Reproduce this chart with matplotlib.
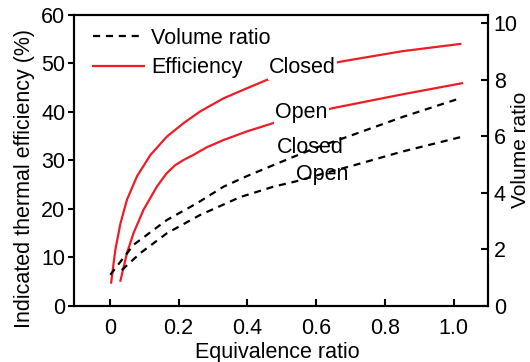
import matplotlib
matplotlib.use("Agg")
import numpy as np
from matplotlib import pyplot as plt

plt.rcParams["font.family"] = ["Liberation Sans", "DejaVu Sans"]
fs = 15.5

# efficiency (%) vs equivalence ratio
eff_closed_x = [0.004, 0.016, 0.031, 0.050, 0.079, 0.118, 0.166, 0.215, 0.263, 0.331, 0.40, 0.457,
                0.56, 0.675, 0.85, 1.019]
eff_closed_y = [4.8, 11.5, 17.0, 21.9, 26.7, 31.1, 34.9, 37.7, 40.1, 42.8, 44.9, 46.6,
                48.7, 50.4, 52.5, 54.0]
eff_open_x = [0.031, 0.050, 0.069, 0.098, 0.137, 0.165, 0.19, 0.215, 0.245, 0.282, 0.331, 0.40, 0.476,
              0.56, 0.651, 0.85, 1.024]
eff_open_y = [5.2, 10.9, 15.0, 19.8, 24.6, 27.3, 29.0, 30.1, 31.2, 32.7, 34.2, 36.0, 37.7,
              39.3, 40.8, 43.6, 45.9]

# volume ratio vs equivalence ratio
vr_closed_x = [0.0015, 0.069, 0.166, 0.253, 0.331, 0.40, 0.525, 0.60, 0.699, 0.85, 1.019]
vr_closed_y = [1.10, 2.16, 3.04, 3.63, 4.22, 4.60, 5.23, 5.60, 6.02, 6.68, 7.35]
vr_open_x = [0.035, 0.089, 0.166, 0.263, 0.379, 0.476, 0.539, 0.62, 0.714, 0.85, 1.019]
vr_open_y = [1.27, 1.87, 2.57, 3.22, 3.85, 4.22, 4.40, 4.68, 4.99, 5.46, 5.97]

xticks = [0, 0.2, 0.4, 0.6, 0.8, 1.0]
xtick_labels = ["0", "0.2", "0.4", "0.6", "0.8", "1.0"]

fig = plt.figure(figsize=(5.3, 3.62), dpi=100)
ax = fig.add_axes([0.139, 0.155, 0.782, 0.804])
ax2 = ax.twinx()

red = "#ee1c25"
dash = (3.2, 2.6)
ax.plot(eff_closed_x, eff_closed_y, color=red, lw=1.6, label="Efficiency")
ax.plot(eff_open_x, eff_open_y, color=red, lw=1.6)
ax2.plot(vr_closed_x, vr_closed_y, color="black", lw=1.6, dashes=dash)
ax2.plot(vr_open_x, vr_open_y, color="black", lw=1.6, dashes=dash)

ax.set_xlim(-0.105, 1.10)
ax.set_ylim(0, 60)
ax2.set_ylim(0, 10.3)
ax.set_xticks(xticks)
ax.set_xticklabels(xtick_labels)
ax.set_yticks(range(0, 61, 10))
ax2.set_yticks(range(0, 11, 2))

ax.tick_params(axis="x", direction="in", length=5, width=1.5, labelsize=fs, pad=9)
ax.tick_params(axis="y", direction="out", length=4, width=1.5, labelsize=fs, pad=2)
ax2.tick_params(axis="y", direction="in", length=5, width=1.5, labelsize=fs, pad=4)
for a in (ax, ax2):
    for s in a.spines.values():
        s.set_linewidth(1.5)

ax.set_xlabel("Equivalence ratio", fontsize=fs, va="center")
ax.xaxis.set_label_coords(0.491, -0.16)
ax.set_ylabel("Indicated thermal efficiency (%)", fontsize=fs, va="center")
ax.yaxis.set_label_coords(-0.119, 0.436)
ax2.set_ylabel("Volume ratio", fontsize=15, va="center", rotation=90)
ax2.yaxis.set_label_coords(1.079, 0.536)

# legend handles
ax.plot([], [], color="black", lw=1.6, dashes=dash, label="Volume ratio")
h, l = ax.get_legend_handles_labels()
ax.legend(h[::-1], l[::-1], loc="upper left", frameon=False, fontsize=fs,
          handlelength=2.4, handletextpad=0.3, borderaxespad=0.0, labelspacing=0.4,
          bbox_to_anchor=(0.025, 0.985))

box = dict(facecolor="white", edgecolor="none", pad=1)
ax.text(0.56, 49.1, "Closed", fontsize=fs, ha="center", va="center", bbox=box)
ax.text(0.556, 39.8, "Open", fontsize=fs, ha="center", va="center", bbox=box)
ax.text(0.582, 32.6, "Closed", fontsize=fs, ha="center", va="center", bbox=box)
ax.text(0.617, 27.0, "Open", fontsize=fs, ha="center", va="center", bbox=box)

plt.savefig("out.png", dpi=100)
plt.close()
